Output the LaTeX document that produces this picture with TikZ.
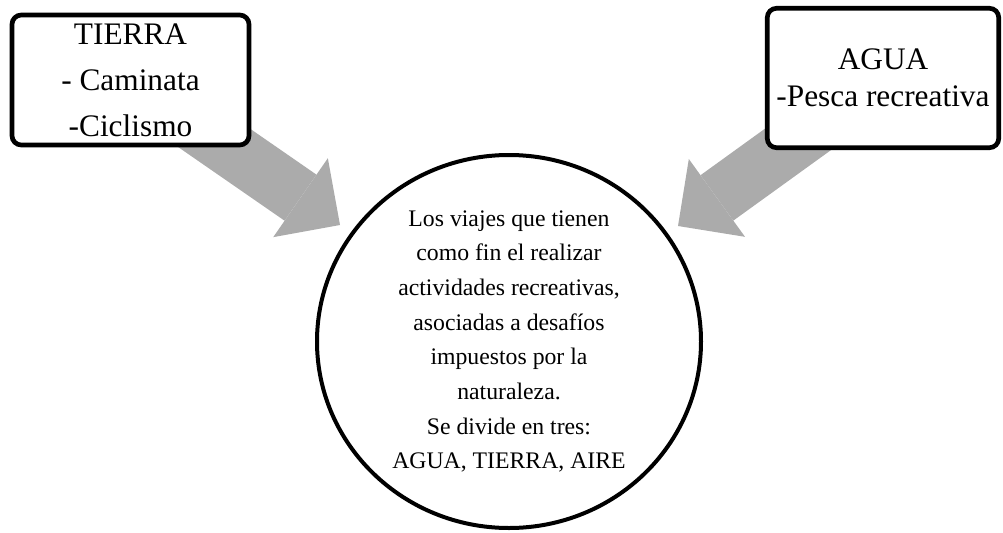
\documentclass[tikz,border=0pt]{standalone}
\usepackage{fontspec}
\setmainfont{Liberation Serif}
\usepackage{tikz}
\usetikzlibrary{arrows.meta,shapes.geometric}
\definecolor{grisflecha}{RGB}{171,171,171}
\pgfdeclarelayer{fondo}
\pgfsetlayers{fondo,main}
\tikzset{
  caja/.style = {rectangle, rounded corners=7pt, draw=black, line width=3.5pt,
    fill=white, align=center, inner sep=0pt},% cuadro de texto
  bola/.style = {ellipse, draw=black, line width=3pt,
    fill=white, align=center, inner sep=0pt},% circulo central
  flecha/.style = {grisflecha, line width=42pt,
    -{Triangle[length=36pt,width=72pt,line width=0pt]}},% flecha gruesa gris
}

\begin{document}
\begin{tikzpicture}[x=0.75pt,y=-0.75pt]
  \useasboundingbox (0,0) rectangle (1003,532);

  \node[caja, minimum width=177.75pt, minimum height=97.5pt,
    font=\fontsize{23.5}{34.5}\selectfont] (tierra) at (130.5,80) {TIERRA\\- Caminata\\-Ciclismo};
  \node[caja, minimum width=173.6pt, minimum height=104.6pt,
    font=\fontsize{23.5}{27.8}\selectfont] (agua) at (883,78) {AGUA\\-Pesca recreativa};

  \node[bola, minimum width=288pt, minimum height=279.75pt,
    font=\fontsize{17.8}{26}\selectfont] (viajes) at (509,341.5) {Los viajes que tienen\\como fin el realizar\\actividades recreativas,\\asociadas a desafíos\\impuestos por la\\naturaleza.\\Se divide en tres:\\AGUA, TIERRA, AIRE};

  \coordinate (p_tierra) at (340,225);
  \coordinate (p_agua) at (678,226);

  % flechas detras de los cuadros
  \begin{pgfonlayer}{fondo}
  \draw[flecha] (tierra.center) -- (p_tierra);
  \draw[flecha] (agua.center) -- (p_agua);
  \end{pgfonlayer}
\end{tikzpicture}
\end{document}
